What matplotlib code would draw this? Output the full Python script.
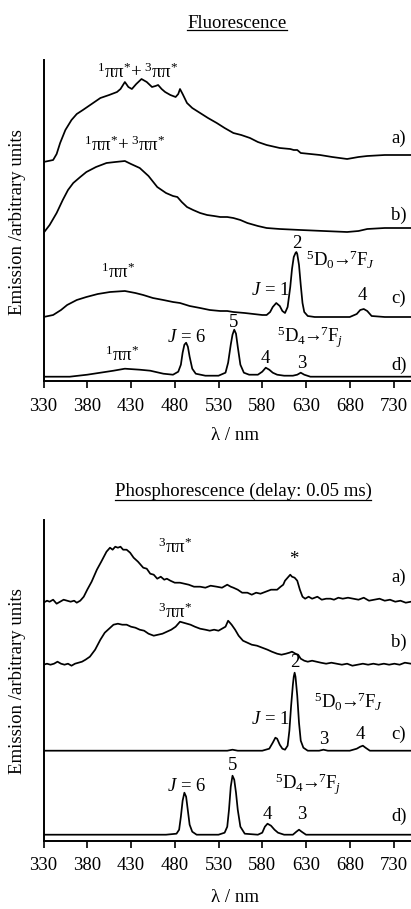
import matplotlib
matplotlib.use('Agg')
import matplotlib.pyplot as plt
from matplotlib.lines import Line2D

plt.rcParams['font.family'] = ['Liberation Serif', 'DejaVu Serif']
plt.rcParams['mathtext.fontset'] = 'custom'
plt.rcParams['mathtext.rm'] = 'Liberation Serif'
plt.rcParams['mathtext.it'] = 'Liberation Serif:italic'
plt.rcParams['mathtext.bf'] = 'Liberation Serif:bold'

# ---------------- data ----------------
xticks = [330, 380, 430, 480, 530, 580, 630, 680, 730]

# Fluorescence
fa_x = [330, 341, 345, 349, 355, 362, 368, 375, 385, 395, 405, 414, 418, 423, 427, 431, 436, 442, 448, 454,
        458, 461, 465, 469, 475, 481, 484, 486, 489, 494, 500, 509, 518, 528, 537, 547, 556, 566, 575, 585,
        600, 612, 616, 620, 624, 635, 646, 660, 677, 690, 700, 720, 749]
fa_y = [0, 2, 8, 19, 32, 42, 48, 52, 58, 64, 67, 70, 73, 80, 75, 73, 78, 83, 80, 75,
        76, 77, 73, 70, 67, 65, 68, 73, 68, 59, 54, 49, 44, 39, 34, 29, 27, 24, 20, 17,
        14, 13, 12, 12, 9, 8, 7, 5, 3, 5, 6, 7, 7]

fb_x = [330, 337, 345, 352, 358, 364, 372, 379, 390, 402, 412, 423, 430, 440, 450, 460, 470, 478, 483, 488,
        494, 501, 509, 517, 525, 532, 540, 547, 555, 563, 575, 585, 600, 624, 650, 677, 690, 700, 720, 749]
fb_y = [0, 8, 20, 33, 43, 50, 56, 61, 66, 70, 71, 72, 69, 65, 57, 46, 40, 37, 36, 31,
        26, 23, 20, 18, 17, 16, 16, 15, 13, 10, 7, 5, 4, 3, 2, 1, 2, 4, 5, 5]

fc_x = [330, 341, 350, 357, 368, 379, 392, 406, 423, 435, 444, 455, 467, 478, 486, 497, 509, 520, 532, 540,
        547, 560, 570, 580, 585, 589, 592, 596, 600, 603, 606, 609, 612, 614, 616, 618, 619, 620, 622, 624,
        626, 628, 632, 640, 660, 680, 688, 692, 696, 700, 705, 720, 749]
fc_y = [0, 2, 7, 12, 17, 20, 23, 25, 26, 24, 22, 19, 17, 15, 14, 11, 9, 7, 6, 6,
        5, 4, 3, 2, 2, 5, 10, 14, 11, 6, 4, 10, 30, 48, 60, 64, 65, 63, 52, 32,
        14, 5, 1, 0, 0, 0, 3, 7, 8, 6, 1, 0, 0]

fd_x = [330, 360, 380, 395, 410, 423, 440, 452, 467, 478, 484, 487, 489, 491, 493, 495, 497, 500, 504, 515,
        530, 538, 541, 544, 546, 548, 550, 552, 555, 559, 565, 575, 580, 584, 588, 592, 597, 605, 615, 620,
        624, 628, 635, 660, 700, 749]
fd_y = [0, 0, 2, 4, 6, 8, 7, 6, 3, 2, 5, 12, 24, 32, 34, 30, 20, 8, 3, 1,
        1, 4, 14, 32, 42, 47, 43, 30, 12, 4, 2, 2, 5, 9, 7, 4, 2, 1, 1, 2,
        4, 2, 0, 0, 0, 0]

fluo_offsets = [219, 148, 64, 4.3]

# Phosphorescence
pa_x = [330, 334, 337, 341, 345, 349, 353, 357, 361, 365, 368, 372, 376, 380, 385, 391, 396, 402, 406, 409,
        412, 415, 418, 421, 425, 429, 433, 438, 444, 448, 452, 456, 460, 464, 468, 471, 475, 480, 486, 491,
        496, 502, 509, 515, 521, 528, 534, 540, 544, 547, 552, 557, 563, 568, 573, 578, 584, 590, 597, 601,
        604, 606, 609, 612, 614, 617, 620, 623, 626, 629, 633, 637, 643, 648, 653, 658, 662, 667, 672, 678,
        684, 690, 696, 702, 708, 714, 720, 726, 732, 738, 744, 750]
pa_y = [0, 2, 1, 3, -1, 1, 3, 2, 1, 2, 0, 2, 6, 13, 21, 33, 41, 51, 55, 53,
        56, 55, 56, 53, 53, 50, 45, 41, 35, 34, 29, 28, 24, 26, 23, 24, 22, 20, 20, 19,
        18, 16, 16, 15, 17, 16, 15, 18, 16, 15, 13, 10, 10, 8, 10, 9, 11, 13, 13, 16,
        18, 22, 25, 28, 26, 25, 22, 13, 6, 4, 6, 4, 6, 3, 4, 4, 3, 5, 4, 5,
        4, 3, 5, 2, 3, 4, 2, 3, 1, 2, 0, 1]

pb_x = [330, 334, 338, 342, 346, 350, 354, 358, 362, 366, 370, 374, 378, 383, 389, 395, 400, 405, 410, 415,
        420, 425, 430, 435, 440, 445, 450, 456, 461, 466, 471, 476, 481, 486, 490, 494, 498, 503, 509, 515,
        520, 525, 530, 534, 538, 541, 545, 549, 553, 558, 563, 568, 574, 580, 586, 591, 597, 602, 607, 611,
        614, 618, 621, 624, 628, 632, 637, 642, 647, 653, 659, 665, 671, 677, 683, 689, 695, 701, 707, 713,
        719, 725, 731, 737, 743, 750]
pb_y = [0, 1, 0, 1, 3, 1, 0, 1, -1, 1, 2, 3, 5, 8, 15, 25, 32, 36, 40, 41,
        40, 40, 38, 37, 35, 34, 31, 29, 30, 31, 33, 35, 38, 43, 42, 41, 40, 38, 36, 35,
        34, 35, 34, 36, 38, 44, 40, 35, 29, 24, 22, 20, 19, 17, 15, 13, 11, 10, 11, 12,
        13, 11, 10, 6, 4, 3, 4, 3, 2, 1, 2, 1, 0, 1, -1, 0, 1, 0, 1, 0,
        1, 0, 1, 0, 2, 1]

pc_x = [330, 400, 500, 540, 546, 552, 580, 588, 592, 595, 597, 600, 603, 606, 609, 611, 613, 615, 616, 617,
        618, 620, 622, 624, 627, 632, 645, 650, 655, 680, 688, 692, 695, 698, 703, 720, 750]
pc_y = [0, 0, 0, 0, 1, 0, 0, 2, 8, 13, 12, 6, 2, 1, 5, 20, 45, 66, 74, 78,
        74, 55, 28, 10, 3, 0, 0, 1, 0, 0, 2, 4, 5, 3, 0, 0, 0]

pd_x = [330, 470, 482, 485, 487, 489, 491, 493, 495, 497, 500, 505, 530, 537, 540, 542, 544, 546, 548, 550,
        552, 555, 560, 575, 580, 583, 586, 590, 594, 598, 605, 615, 619, 622, 625, 630, 650, 750]
pd_y = [0, 0, 1, 5, 18, 34, 42, 38, 24, 10, 3, 0, 0, 2, 8, 25, 48, 59, 55, 42,
        25, 8, 1, 0, 2, 8, 11, 9, 5, 2, 0, 0, 3, 5, 3, 0, 0, 0]

phos_offsets = [238, 176, 90, 6]

# ---------------- figure ----------------
W, H = 411, 909
fig = plt.figure(figsize=(W / 100, H / 100), dpi=100)


def fx(px):
    return px / W


def fy(py):
    return 1 - py / H


FS = 13.5
LW = 1.25


def make_axes(top_px, bottom_px):
    ax = fig.add_axes([fx(43.5), fy(bottom_px), fx(411) - fx(43.5), fy(top_px) - fy(bottom_px)])
    ax.set_xlim(330, 750)
    ax.set_ylim(0, bottom_px - top_px)
    for s in ['top', 'right']:
        ax.spines[s].set_visible(False)
    for s in ['left', 'bottom']:
        ax.spines[s].set_linewidth(1.4)
    ax.set_yticks([])
    ax.set_xticks(xticks)
    ax.tick_params(axis='x', direction='out', length=5, width=1.2, labelsize=FS, pad=7)
    return ax


ax1 = make_axes(60, 381)
ax2 = make_axes(520, 840.7)

for (xs, ys), off in zip([(fa_x, fa_y), (fb_x, fb_y), (fc_x, fc_y), (fd_x, fd_y)], fluo_offsets):
    ax1.plot(xs, [v + off for v in ys], color='black', lw=LW, solid_joinstyle='round')

for (xs, ys), off in zip([(pa_x, pa_y), (pb_x, pb_y), (pc_x, pc_y), (pd_x, pd_y)], phos_offsets):
    ax2.plot(xs, [v + off for v in ys], color='black', lw=LW, solid_joinstyle='round')

PIPI = r'$^{1}\mathrm{\pi\pi}^{*}$'
PIPI_BOTH = r'$^{1}\mathrm{\pi\pi}^{*}\!+{}^{3}\mathrm{\pi\pi}^{*}$'
PIPI3 = r'$^{3}\mathrm{\pi\pi}^{*}$'
EU = r'$^{5}\mathrm{D}_{0}\!\!\rightarrow\!\!{}^{7}\mathrm{F}_{J}$'
TB = r'$^{5}\mathrm{D}_{4}\!\!\rightarrow\!\!{}^{7}\mathrm{F}_{j}$'


def t(ax, x, y, s):
    ax.text(x, y, s, ha='center', va='center', fontsize=FS)


# fluorescence labels
t(ax1, 438, 309, PIPI_BOTH)
t(ax1, 423, 236, PIPI_BOTH)
t(ax1, 736, 243, 'a)')
t(ax1, 736, 166, 'b)')
t(ax1, 415, 109, PIPI)
t(ax1, 619, 138, '2')
t(ax1, 669, 121, EU)
t(ax1, 589, 91, r'$J$ = 1')
t(ax1, 694.5, 86, '4')
t(ax1, 736, 83, 'c)')
t(ax1, 494, 44, r'$J$ = 6')
t(ax1, 547, 59, '5')
t(ax1, 635, 44, TB)
t(ax1, 420, 26, PIPI)
t(ax1, 583.5, 23, '4')
t(ax1, 624.7, 18, '3')
t(ax1, 736, 16, 'd)')

# phosphorescence labels
t(ax2, 480.5, 293, PIPI3)
t(ax2, 615.5, 281, '*')
t(ax2, 736, 263, 'a)')
t(ax2, 480.5, 228, PIPI3)
t(ax2, 736, 198, 'b)')
t(ax2, 616.7, 178, '2')
t(ax2, 678.5, 139, EU)
t(ax2, 589, 121, r'$J$ = 1')
t(ax2, 650, 101, '3')
t(ax2, 692, 106, '4')
t(ax2, 736, 106, 'c)')
t(ax2, 545.7, 75, '5')
t(ax2, 494, 54, r'$J$ = 6')
t(ax2, 632.6, 56, TB)
t(ax2, 585.6, 26, '4')
t(ax2, 624.7, 26, '3')
t(ax2, 736, 24, 'd)')

# axis labels and titles
for yc in (222, 681):
    fig.text(fx(18), fy(yc), 'Emission /arbitrary units', rotation=90, ha='center', va='center', fontsize=FS)
for yc in (436, 898):
    fig.text(fx(235), fy(yc), 'λ / nm', ha='center', va='center', fontsize=FS)

t1 = fig.text(fx(237), fy(28), 'Fluorescence', ha='center', va='baseline', fontsize=FS)
t2 = fig.text(fx(243), fy(496), 'Phosphorescence (delay: 0.05 ms)', ha='center', va='baseline', fontsize=FS)

fig.canvas.draw()
renderer = fig.canvas.get_renderer()
for txt, uy in ((t1, 29.8), (t2, 499.5)):
    bb = txt.get_window_extent(renderer)
    fig.add_artist(Line2D([bb.x0 / W, bb.x1 / W], [fy(uy), fy(uy)], transform=fig.transFigure,
                          color='black', lw=0.9))

fig.savefig('out.png', dpi=100)
